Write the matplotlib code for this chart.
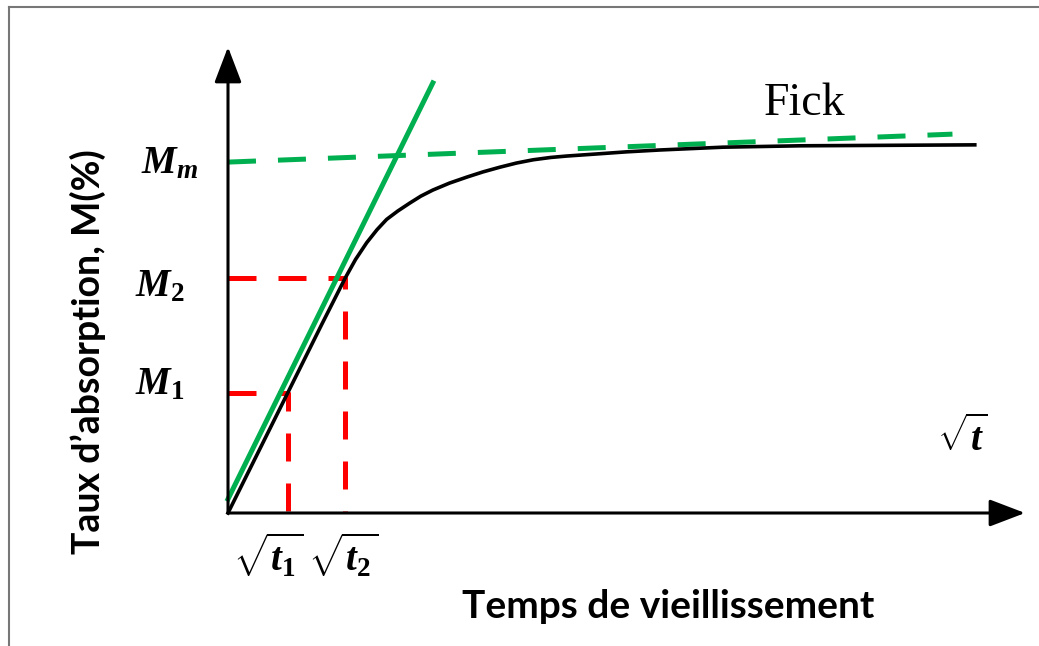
import matplotlib.pyplot as plt
from matplotlib.lines import Line2D

plt.rcParams['mathtext.fontset'] = 'custom'
plt.rcParams['mathtext.it'] = 'Liberation Serif:italic:bold'
plt.rcParams['mathtext.rm'] = 'Liberation Serif:bold'
plt.rcParams['mathtext.bf'] = 'Liberation Serif:bold'

# courbe d'absorption (racine du temps, taux d'absorption)
racine_t = [0.0, 0.75, 1.18, 1.47, 1.60, 1.74, 1.87, 1.99, 2.13, 2.28, 2.42,
            2.57, 2.78, 3.00, 3.20, 3.41, 3.62, 3.83, 4.05, 4.25, 4.67, 5.00,
            5.42, 6.21, 7.18, 9.37]
taux_M = [0.0, 2.58, 4.06, 5.04, 5.44, 5.80, 6.08, 6.30, 6.48, 6.65, 6.80,
          6.93, 7.08, 7.21, 7.32, 7.42, 7.51, 7.58, 7.63, 7.66, 7.71, 7.75,
          7.79, 7.85, 7.88, 7.90]

# tangente a l'origine et asymptote
tangente_x = [0.0, 2.57]
tangente_y = [0.3, 9.23]
asymptote_x = [0.0, 9.09]
asymptote_y = [7.53, 8.13]

# points reperes
t1, t2 = 0.75, 1.47
M1, M2, Mm = 2.58, 5.04, 7.53

vert = '#00b050'
rouge = '#ff0000'

fig = plt.figure(figsize=(10.39, 6.46), dpi=100)
ax = fig.add_axes([228 / 1039, (646 - 513) / 646, 797 / 1039, 466 / 646])
ax.set_xlim(0, 10)
ax.set_ylim(0, 10)
ax.axis('off')

# cadre
fig.add_artist(Line2D([9 / 1039, 9 / 1039], [0, 1 - 7 / 646], color='#777777', lw=1.5,
                      transform=fig.transFigure))
fig.add_artist(Line2D([9 / 1039, 1], [1 - 7 / 646, 1 - 7 / 646], color='#777777', lw=1.5,
                      transform=fig.transFigure))

# axes avec fleches
fleche = dict(arrowstyle='-|>,head_length=1.1,head_width=0.42', lw=2.2,
              color='#333333', shrinkA=0, shrinkB=0, mutation_scale=20,
              fc='black', ec='black')
ax.annotate('', xy=(1, 0), xytext=(0, 0), xycoords='axes fraction',
            arrowprops=fleche)
ax.annotate('', xy=(0, 1), xytext=(0, 0), xycoords='axes fraction',
            arrowprops=fleche)

# reperes M1, M2
ax.plot([0, t1, t1], [M1, M1, 0], color=rouge, lw=3.6, dashes=(5.6, 4.4),
        dash_capstyle='butt', clip_on=False)
ax.plot([0, t2, t2], [M2, M2, 0], color=rouge, lw=3.6, dashes=(5.6, 4.4),
        dash_capstyle='butt', clip_on=False)

ax.plot(asymptote_x, asymptote_y, color=vert, lw=3.6, dashes=(5.6, 4.4),
        dash_capstyle='butt', clip_on=False)
ax.plot(racine_t, taux_M, color='black', lw=2.6, clip_on=False,
        solid_joinstyle='round')
ax.plot(tangente_x, tangente_y, color=vert, lw=3.6, clip_on=False)

# etiquettes
etq = dict(fontsize=28, color='black', ha='right', va='center')
ax.text(-0.38, Mm, r'$M_m$', **etq)
ax.text(-0.55, M2 - 0.15, r'$M_2$', **etq)
ax.text(-0.55, M1 + 0.2, r'$M_1$', **etq)
ax.text(0.5, -0.9, r'$\sqrt{t_1}$', fontsize=28, ha='center', va='center')
ax.text(1.45, -0.9, r'$\sqrt{t_2}$', fontsize=28, ha='center', va='center')
ax.text(9.22, 1.62, r'$\sqrt{t}$', fontsize=28, ha='center', va='center')
ax.text(7.23, 8.78, 'Fick', fontsize=33, family='Liberation Serif', ha='center',
        va='center')

fig.text(668 / 1039, 1 - 607 / 646, 'Temps de vieillissement', fontsize=28,
         family='Lato', weight='bold', ha='center', va='center')
fig.text(88 / 1039, 1 - 352 / 646, 'Taux d\u2019absorption, M(%)', fontsize=27,
         family='Lato', weight='bold', ha='center', va='center', rotation=90)

fig.savefig('out.png', dpi=100)
